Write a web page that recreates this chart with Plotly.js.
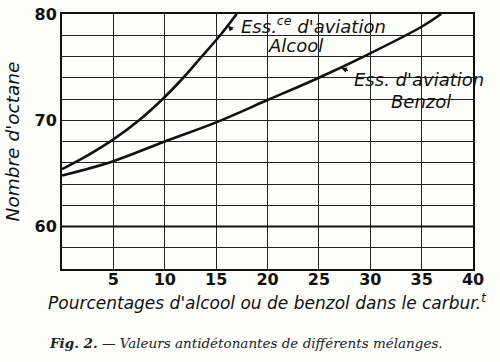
<!DOCTYPE html>
<html>
<head>
<meta charset="utf-8">
<script src="https://cdn.plot.ly/plotly-3.0.1.min.js"></script>
<style>
html,body{margin:0;padding:0;background:#fdfdfb;}
#chart{width:500px;height:362px;}
</style>
</head>
<body>
<div id="chart"></div>
<script>
// Essence d'aviation + alcool
const alcoolX = [0, 2.5, 5, 7.5, 9.8, 11.8, 13.6, 15.4, 17.0];
const alcoolY = [65.4, 66.7, 68.2, 70.0, 72.0, 74.0, 76.0, 78.0, 80.0];
// Essence d'aviation + benzol
const benzolX = [0, 5, 10, 15, 20, 25, 30, 35, 36.9];
const benzolY = [64.8, 66.15, 68.0, 69.8, 71.9, 74.0, 76.3, 78.8, 80.0];

const xTickVals = [5, 10, 15, 20, 25, 30, 35, 40];
const xTickText = ['5', '10', '15', '20', '25', '30', '35', '40'];
const yTickVals = [58, 60, 62, 64, 66, 68, 70, 72, 74, 76, 78, 80];
const yTickText = [' ', '60', ' ', ' ', ' ', ' ', '70', ' ', ' ', ' ', ' ', '80'];

const labelFont = "'DejaVu Sans', sans-serif";
const ink = '#111';

const traces = [
  {x: alcoolX, y: alcoolY, mode: 'lines', line: {color: ink, width: 2.6, shape: 'spline', smoothing: 1}, hoverinfo: 'skip'},
  {x: benzolX, y: benzolY, mode: 'lines', line: {color: ink, width: 2.6, shape: 'spline', smoothing: 1}, hoverinfo: 'skip'}
];

const layout = {
  width: 500, height: 362,
  paper_bgcolor: '#fdfdfb', plot_bgcolor: '#fdfdfb',
  showlegend: false,
  margin: {l: 62, r: 27, t: 14, b: 93},
  xaxis: {
    range: [0, 40], tickvals: xTickVals, ticktext: xTickText,
    showgrid: true, gridcolor: '#222', gridwidth: 1,
    showline: true, linecolor: ink, linewidth: 2, mirror: true,
    ticks: '', zeroline: false, ticklabelstandoff: -5,
    tickfont: {family: labelFont, size: 16, color: ink, weight: 'bold'}
  },
  yaxis: {
    range: [56, 80], tickvals: yTickVals, ticktext: yTickText,
    showgrid: true, gridcolor: '#222', gridwidth: 1,
    showline: true, linecolor: ink, linewidth: 2, mirror: true,
    ticks: '', zeroline: false,
    tickfont: {family: labelFont, size: 16, color: ink, weight: 'bold'},
    title: {text: "<i>Nombre d'octane</i>", font: {family: labelFont, size: 18.5, color: ink, style: 'italic'}, standoff: 10}
  },
  annotations: [
    {x: 0.5, y: -0.13, xref: 'paper', yref: 'paper', xanchor: 'center', yanchor: 'middle',
     text: "<i>Pourcentages d'alcool ou de benzol dans le carbur.<sup>t</sup></i>", showarrow: false,
     font: {family: labelFont, size: 17, color: ink, style: 'italic'}},
    {x: 16.15, y: 78.9, xref: 'x', yref: 'y', ax: 6, ay: 6,
     text: '', showarrow: true, arrowhead: 2, arrowsize: 0.9, arrowwidth: 1.2, arrowcolor: ink},
    {x: 0.43, y: 0.955, xref: 'paper', yref: 'paper', xanchor: 'left', yanchor: 'middle',
     text: "<i>Ess.<sup>ce</sup> d'aviation</i>", showarrow: false,
     font: {family: labelFont, size: 18, color: ink, style: 'italic'}},
    {x: 0.497, y: 0.875, xref: 'paper', yref: 'paper', xanchor: 'left', yanchor: 'middle',
     text: "<i>Alcool</i>", showarrow: false,
     font: {family: labelFont, size: 18, color: ink, style: 'italic'}},
    {x: 27.2, y: 74.9, xref: 'x', yref: 'y', ax: 8, ay: 3,
     text: '', showarrow: true, arrowhead: 2, arrowsize: 0.9, arrowwidth: 1.2, arrowcolor: ink},
    {x: 0.705, y: 0.745, xref: 'paper', yref: 'paper', xanchor: 'left', yanchor: 'middle',
     text: "<i>Ess. d'aviation</i>", showarrow: false,
     font: {family: labelFont, size: 18, color: ink, style: 'italic'}},
    {x: 0.795, y: 0.655, xref: 'paper', yref: 'paper', xanchor: 'left', yanchor: 'middle',
     text: "<i>Benzol</i>", showarrow: false,
     font: {family: labelFont, size: 18, color: ink, style: 'italic'}},
    {x: -0.036, y: -0.29, xref: 'paper', yref: 'paper', xanchor: 'left', yanchor: 'middle',
     text: "<b><i>Fig. 2.</i></b> <i>— Valeurs antidétonantes de différents mélanges.</i>", showarrow: false,
     font: {family: "'DejaVu Serif', 'Liberation Serif', serif", size: 13.5, color: '#222', style: 'italic'}}
  ],
  shapes: [
    {type: 'line', xref: 'paper', x0: 0, x1: 1, yref: 'y', y0: yTickVals[1], y1: yTickVals[1],
     line: {color: ink, width: 1.8}}
  ]
};

Plotly.newPlot('chart', traces, layout, {staticPlot: true, displayModeBar: false});
</script>
</body>
</html>
